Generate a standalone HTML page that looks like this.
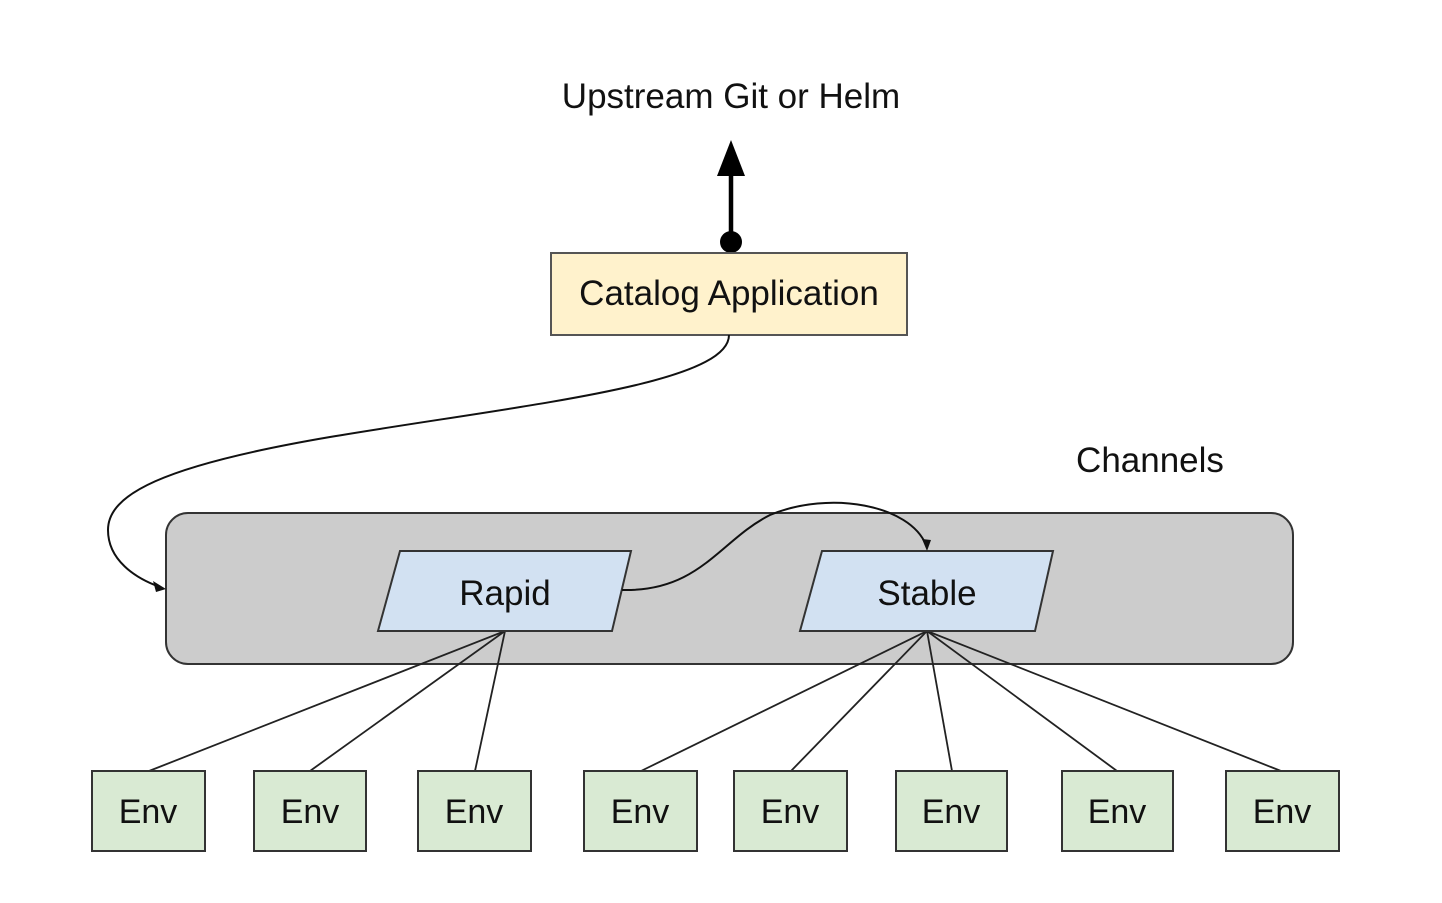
<!DOCTYPE html>
<html><head><style>html,body{margin:0;padding:0;background:#fff}</style></head>
<body>
<svg width="1442" height="898" viewBox="0 0 1442 898" xmlns="http://www.w3.org/2000/svg" font-family="Liberation Sans, Arial, sans-serif">
<rect width="1442" height="898" fill="#fff"/>
<text x="731" y="108" font-size="35" text-anchor="middle" fill="#111">Upstream Git or Helm</text>
<line x1="731" y1="242" x2="731" y2="172" stroke="#000" stroke-width="4.5"/>
<polygon points="731,140 717,176 745,176" fill="#000"/>
<circle cx="731" cy="242" r="11" fill="#000"/>
<rect x="551" y="253" width="356" height="82" fill="#fff2cc" stroke="#555" stroke-width="2"/>
<text x="729" y="305" font-size="35" text-anchor="middle" fill="#111">Catalog Application</text>
<text x="1150" y="472" font-size="35" text-anchor="middle" fill="#111">Channels</text>
<rect x="166" y="513" width="1127" height="151" rx="22" fill="#cccccc" stroke="#333" stroke-width="2"/>
<path d="M729,335 C729,385 520,405 330,437 C160,466 108,495 108,530 C108,560 135,578 160,587" fill="none" stroke="#111" stroke-width="2"/>
<polygon points="166,589 153,581 156,592" fill="#111"/>
<g stroke="#222" stroke-width="1.8">
<line x1="505" y1="631" x2="149" y2="771"/><line x1="505" y1="631" x2="310" y2="771"/><line x1="505" y1="631" x2="475" y2="771"/>
<line x1="927" y1="631" x2="641" y2="771"/><line x1="927" y1="631" x2="791" y2="771"/><line x1="927" y1="631" x2="952" y2="771"/><line x1="927" y1="631" x2="1117" y2="771"/><line x1="927" y1="631" x2="1281" y2="771"/>
</g>
<polygon points="400,551 631,551 612,631 378,631" fill="#d2e1f2" stroke="#333" stroke-width="2"/>
<polygon points="822,551 1053,551 1035,631 800,631" fill="#d2e1f2" stroke="#333" stroke-width="2"/>
<path d="M622,590 C700,592 720,540 770,515 C830,490 910,505 926,545" fill="none" stroke="#111" stroke-width="2"/>
<polygon points="927,551 922,539 931,540" fill="#111"/>
<text x="505" y="605" font-size="35" text-anchor="middle" fill="#111">Rapid</text>
<text x="927" y="605" font-size="35" text-anchor="middle" fill="#111">Stable</text>
<g fill="#d9ead3" stroke="#333" stroke-width="2">
<rect x="92" y="771" width="113" height="80"/><rect x="254" y="771" width="112" height="80"/><rect x="418" y="771" width="113" height="80"/><rect x="584" y="771" width="113" height="80"/>
<rect x="734" y="771" width="113" height="80"/><rect x="896" y="771" width="111" height="80"/><rect x="1062" y="771" width="111" height="80"/><rect x="1226" y="771" width="113" height="80"/>
</g>
<g font-size="34" text-anchor="middle" fill="#111">
<text x="148" y="823">Env</text><text x="310" y="823">Env</text><text x="474" y="823">Env</text><text x="640" y="823">Env</text>
<text x="790" y="823">Env</text><text x="951" y="823">Env</text><text x="1117" y="823">Env</text><text x="1282" y="823">Env</text>
</g>
</svg>
</body></html>
